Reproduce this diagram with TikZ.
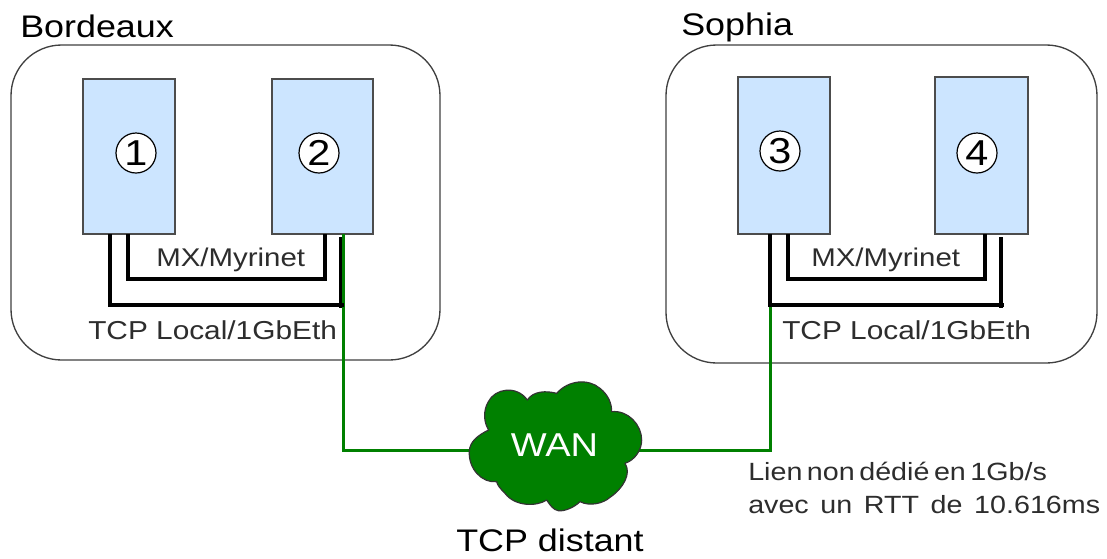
\documentclass[tikz,border=0pt]{standalone}
\usepackage{fontspec}
\setmainfont[FakeStretch=1.15]{Liberation Sans}
\definecolor{boxblue}{RGB}{204,229,255}
\definecolor{wangreen}{RGB}{0,128,0}
\definecolor{txt}{RGB}{45,45,45}
\tikzset{
  x=0.75pt,y=-0.75pt,
  site/.style={draw=black!75,line width=1pt,rounded corners=38pt},
  host/.style={draw=black!70,fill=boxblue,line width=0.9pt,inner sep=0pt},
  num/.style={circle,draw=black,fill=white,line width=0.9pt,minimum size=30pt,inner sep=0pt,font=\fontsize{27}{30}\selectfont},
  link/.style={draw=black,line width=2.6pt},
  wanlink/.style={draw=wangreen,line width=2.25pt},
  label/.style={inner sep=0pt,text=txt,font=\fontsize{19.2}{24}\selectfont},
  tcplabel/.style={inner sep=0pt,text=txt,font=\fontsize{19.45}{24}\selectfont},
  note/.style={inner sep=0pt,text=txt,font=\fontsize{18.7}{24}\selectfont},
  title/.style={inner sep=0pt,text=black,font=\fontsize{23.4}{27}\selectfont},
}
\begin{document}
\begin{tikzpicture}
\useasboundingbox (0,0) rectangle (1107,558);
\fill[white] (0,0) rectangle (1107,558);
% sites
\path[site] (11,45) rectangle (440,360);
\path[site] (666,45) rectangle (1097,363);
% hosts
\node[host,minimum width=69pt,minimum height=116.25pt] (h1) at (129,156.5) {};
\node[host,minimum width=75.75pt,minimum height=116.25pt] (h2) at (322.5,156.5) {};
\node[host,minimum width=69pt,minimum height=117.75pt] (h3) at (784,155.5) {};
\node[host,minimum width=69.75pt,minimum height=117.75pt] (h4) at (981.5,155.5) {};
\node[num] (n1) at (136,153) {1};
\node[num] (n2) at (319,153) {2};
\node[num] (n3) at (780,151) {3};
\node[num] (n4) at (977,153) {4};
% anchors of links
\coordinate (a1) at (110,234);
\coordinate (a1m) at (128,234);
\coordinate (a2m) at (325,234);
\coordinate (a2) at (340.5,237);
\coordinate (c2) at (340.5,305);
\coordinate (a3) at (770,234);
\coordinate (a3m) at (788,234);
\coordinate (a4m) at (985,234);
\coordinate (a4) at (1001,237);
\coordinate (c4) at (1001,305);
\coordinate (g2) at (343,234);
\coordinate (g3) at (770,305);
\coordinate (wl) at (475,450);
\coordinate (wr) at (635,450);
% green links (under the cloud)
\draw[wanlink] (g2) |- (wl);
\draw[wanlink] (g3) |- (wr);
% WAN cloud
\begin{scope}[shift={(440,360)},x=0.25pt,y=-0.25pt]
\draw[fill=wangreen,draw=black!80,line width=0.9pt,line join=round]
  (88,275) .. controls (88,245) and (115,225) .. (146,210)
  .. controls (130,185) and (130,150) .. (145,125)
  .. controls (165,85) and (230,75) .. (262,120)
  .. controls (280,92) and (320,92) .. (350,100)
  .. controls (385,60) and (445,55) .. (480,85)
  .. controls (505,105) and (515,130) .. (515,155)
  .. controls (565,150) and (605,195) .. (605,240)
  .. controls (605,270) and (585,300) .. (555,310)
  .. controls (575,340) and (550,385) .. (510,412)
  .. controls (490,430) and (450,440) .. (420,425)
  .. controls (405,440) and (375,455) .. (355,452)
  .. controls (340,450) and (330,435) .. (320,420)
  .. controls (290,440) and (225,440) .. (195,400)
  .. controls (180,385) and (172,375) .. (170,365)
  .. controls (125,370) and (85,325) .. (88,275) -- cycle;
\end{scope}
\node[inner sep=0pt,text=white,font=\fontsize{24.8}{27}\selectfont] (wan) at (554.5,445) {WAN};
% local links
\draw[link,shorten >=-2.5pt] (a1) |- (c2);
\draw[link,shorten >=-2.5pt] (a2) -- (c2);
\draw[link] (a1m) -- ++(0,45) -| (a2m);
\draw[link,shorten >=-2.5pt] (a3) |- (c4);
\draw[link,shorten >=-2.5pt] (a4) -- (c4);
\draw[link] (a3m) -- ++(0,45) -| (a4m);
% labels
\node[title,anchor=base west] (bx) at (20,37) {Bordeaux};
\node[title,anchor=base west] (so) at (681,35) {Sophia};
\node[label,anchor=base west] (m1) at (156,266) {MX/Myrinet};
\node[label,anchor=base west] (m2) at (811,266) {MX/Myrinet};
\node[tcplabel,anchor=base west] (t1) at (88,339) {TCP Local/1GbEth};
\node[tcplabel,anchor=base west] (t2) at (782,339) {TCP Local/1GbEth};
\node[note,anchor=base west] (l1) at (748,480) {\spaceskip=3.4pt Lien non dédié en 1Gb/s};
\node[note,anchor=base west] (l2) at (748,513) {\spaceskip=8.7pt avec un RTT de 10.616ms};
\node[title,anchor=base west] (td) at (456,551) {TCP distant};
\end{tikzpicture}
\end{document}
